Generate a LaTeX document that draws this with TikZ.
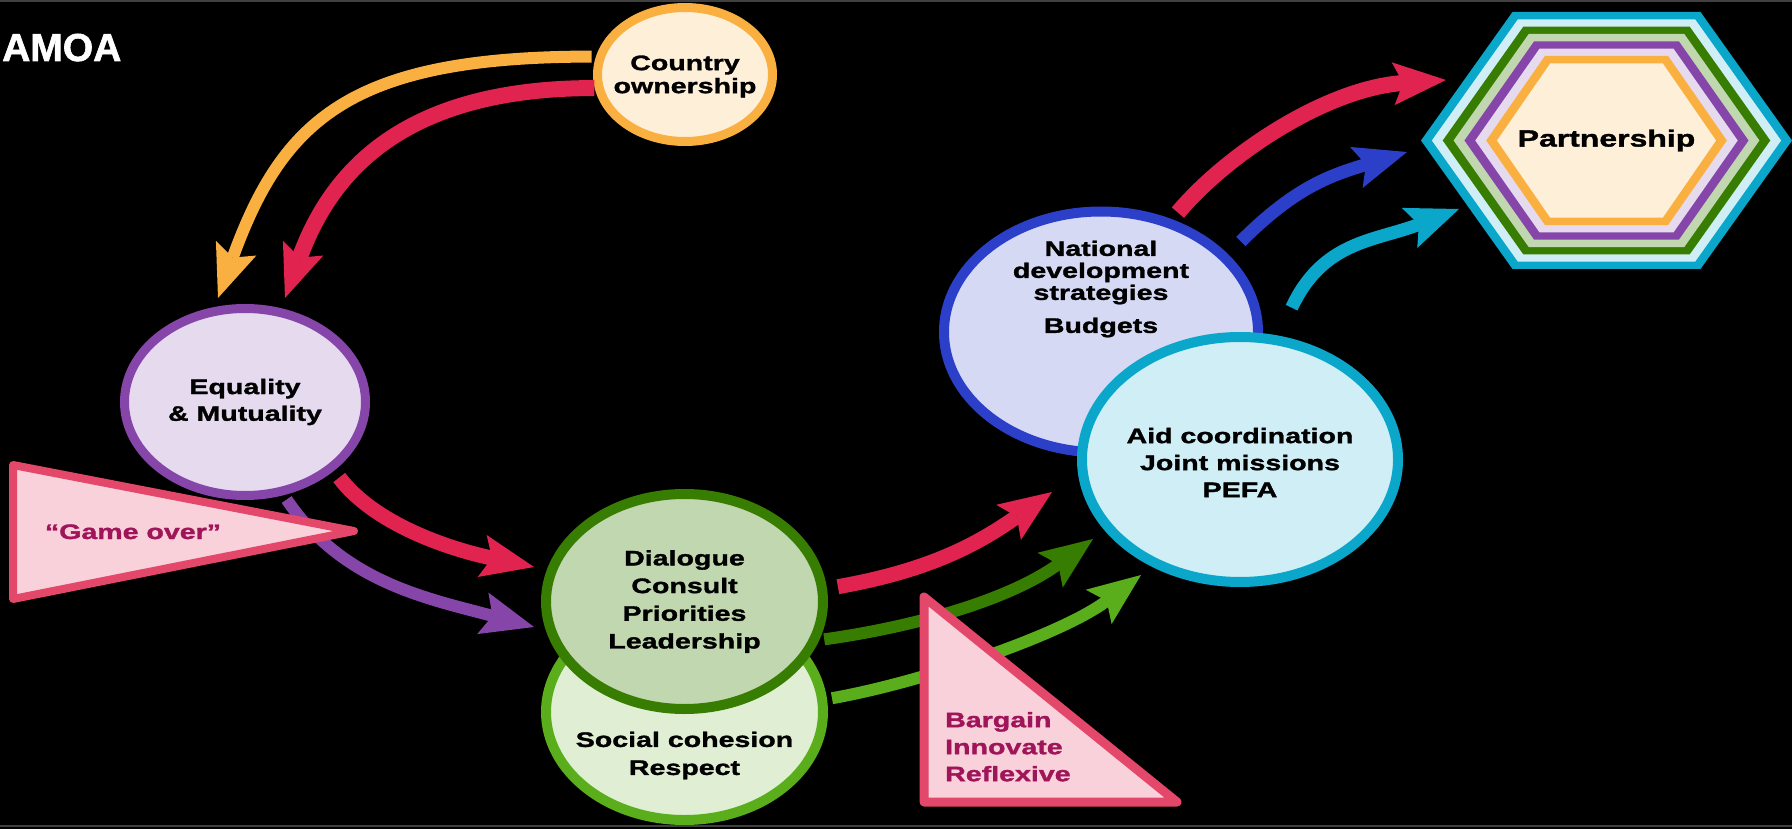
\documentclass[tikz,border=0pt]{standalone}
\usepackage{fontspec}
\usetikzlibrary{arrows.meta,shapes.geometric,calc}
\newfontfamily\lblfont{Liberation Sans}[FakeStretch=1.36,FakeBold=1.5]
\newfontfamily\ttlfont{Liberation Sans}[FakeBold=1.5]
\definecolor{orangeB}{HTML}{FAB041}
\definecolor{orangeF}{HTML}{FEEFD8}
\definecolor{purpleB}{HTML}{8646A9}
\definecolor{purpleF}{HTML}{E6DAEF}
\definecolor{dgreenB}{HTML}{367D01}
\definecolor{dgreenF}{HTML}{C0D7AF}
\definecolor{lgreenB}{HTML}{5AAE1C}
\definecolor{lgreenF}{HTML}{E0EFD4}
\definecolor{blueB}{HTML}{2B3FC9}
\definecolor{blueF}{HTML}{D6D9F3}
\definecolor{cyanB}{HTML}{0BA7CA}
\definecolor{cyanF}{HTML}{D0EEF6}
\definecolor{redA}{HTML}{E0234F}
\definecolor{pinkB}{HTML}{E3476A}
\definecolor{pinkF}{HTML}{F9D1DA}
\definecolor{maroon}{HTML}{A0155A}

\begin{document}
\begin{tikzpicture}[x=1pt,y=1pt,>={Stealth[length=53pt,width=43pt,inset=10pt,line width=0pt]},
	bubble/.style={ellipse,line width=9pt,inner sep=0pt,outer sep=0pt},
	words/.style={inner sep=0pt,align=center,font=\lblfont\bfseries\fontsize{21}{#1}\selectfont},
	words/.default=27,
	pennant/.style={draw=pinkB,fill=pinkF,line width=8pt,line join=round}]
		\useasboundingbox (0,0) rectangle (1792,-829);
		\fill[black] (0,0) rectangle (1792,-829);
		\fill[black!75!white] (0,0) rectangle (1792,-2);
		\fill[black!75!white] (0,-825) rectangle (1792,-827);

		\node[font=\ttlfont\bfseries\fontsize{39}{39}\selectfont,text=white,anchor=base west,inner sep=0pt] (title) at (2,-61) {AMOA};

		% partnership hexagon, outer band first
		\begin{scope}[shift={(1606.5,-140.5)}]
		\foreach \i/\c in {0/cyanB,1/cyanF,2/dgreenB,3/dgreenF,4/purpleB,5/purpleF,6/orangeB,7/orangeF}{
			\pgfmathsetmacro\hexW{185.5-10.86*\i}
			\pgfmathsetmacro\hexw{94-5.4*\i}
			\pgfmathsetmacro\hexh{128.5-7.33*\i}
			\fill[\c] (-\hexW,0) -- (-\hexw,\hexh) -- (\hexw,\hexh) -- (\hexW,0) -- (\hexw,-\hexh) -- (-\hexw,-\hexh) -- cycle;
		}
		\end{scope}
		\node[words,font=\lblfont\bfseries\fontsize{23.5}{28}\selectfont] (partnership) at (1606.5,-140.5) {Partnership};

		\node[bubble,draw=orangeB,fill=orangeF,minimum width=175pt,minimum height=134pt] (country) at (685,-74.5) {};
		\node[bubble,draw=purpleB,fill=purpleF,minimum width=241pt,minimum height=187pt] (equality) at (245,-402) {};
		\node[bubble,draw=lgreenB,fill=lgreenF,line width=10pt,minimum width=277pt,minimum height=216pt] (social) at (684.5,-712) {};
		\node[bubble,draw=dgreenB,fill=dgreenF,line width=10pt,minimum width=277pt,minimum height=215pt] (dialogue) at (684.5,-601.5) {};
		\node[bubble,draw=blueB,fill=blueF,line width=10pt,minimum width=314pt,minimum height=241pt] (national) at (1101,-332) {};
		\node[bubble,draw=cyanB,fill=cyanF,line width=10pt,minimum width=316pt,minimum height=245pt] (aid) at (1240,-459.5) {};

		\node[words=23] (countrytxt) at ($(country)+(0,-2)$) {Country\\ownership};
		\node[words=26.7] (equalitytxt) at (equality) {Equality\\\& Mutuality};
		\node[words=27.7] (dialoguetxt) at (dialogue) {Dialogue\\Consult\\Priorities\\Leadership};
		\node[words=28] (socialtxt) at ($(social)+(0,-43.5)$) {Social cohesion\\Respect};
		\node[words=22] (nationaltxt) at ($(national)+(0,43)$) {National\\development\\strategies\\[11pt]Budgets};
		\node[words] (aidtxt) at ($(aid)+(0,-3)$) {Aid coordination\\Joint missions\\PEFA};

		\draw[->,orangeB,line width=12pt,shorten <=9pt] (country.168) .. controls +(180:250) and +(70:190) .. ($(equality)+(-27,104)$);
		\draw[->,redA,line width=16pt,shorten <=5pt] (country.189) .. controls +(180:190) and +(70:140) .. ($(equality)+(40,104)$);
		\draw[->,redA,line width=15pt,shorten <=13pt] (equality.323) .. controls +(-53:70) and +(168:90) .. ($(dialogue)+(-150.5,34.5)$);
		\draw[->,purpleB,line width=12pt,shorten <=10pt] (equality.292) .. controls +(-56:110) and +(165:110) .. ($(dialogue)+(-150.5,-25.5)$);
		\draw[->,redA,line width=15pt,shorten <=16pt] (dialogue.5) .. controls +(10:110) and +(215:90) .. ($(aid)+(-188,-32.5)$);
		\draw[->,dgreenB,line width=12pt,shorten <=11pt] (dialogue.343) .. controls +(8:110) and +(216:100) .. ($(aid)+(-147,-79.5)$);
		\draw[->,lgreenB,line width=12pt,shorten <=10pt] (social.5) .. controls +(10:100) and +(217:100) .. ($(aid)+(-99,-115.5)$);
		\draw[->,redA,line width=16pt,shorten <=14pt] (national.58) .. controls +(50:90) and +(184:120) .. ($(partnership)+(-160.5,60.5)$);
		\draw[->,blueB,line width=13pt,shorten <=23pt] (national.31) .. controls +(45:100) and +(197:80) .. ($(partnership)+(-199.5,-11.5)$);
		\draw[->,cyanB,line width=13pt,shorten <=36pt] (aid.73) .. controls +(65:110) and +(201:90) .. ($(partnership)+(-147.5,-68.5)$);

		\draw[pennant] (13,-465) -- (354,-531) -- (13,-599) -- cycle;
		\node[words,text=maroon,anchor=base] (gameover) at (133,-539) {“Game over”};
		\draw[pennant,line width=9pt] (924,-597) -- (1177,-802) -- (924,-802) -- cycle;
		\node[words,text=maroon,align=left,anchor=north west] (bargain) at (945,-711.8) {Bargain\\Innovate\\Reflexive};
	\end{tikzpicture}
\end{document}
